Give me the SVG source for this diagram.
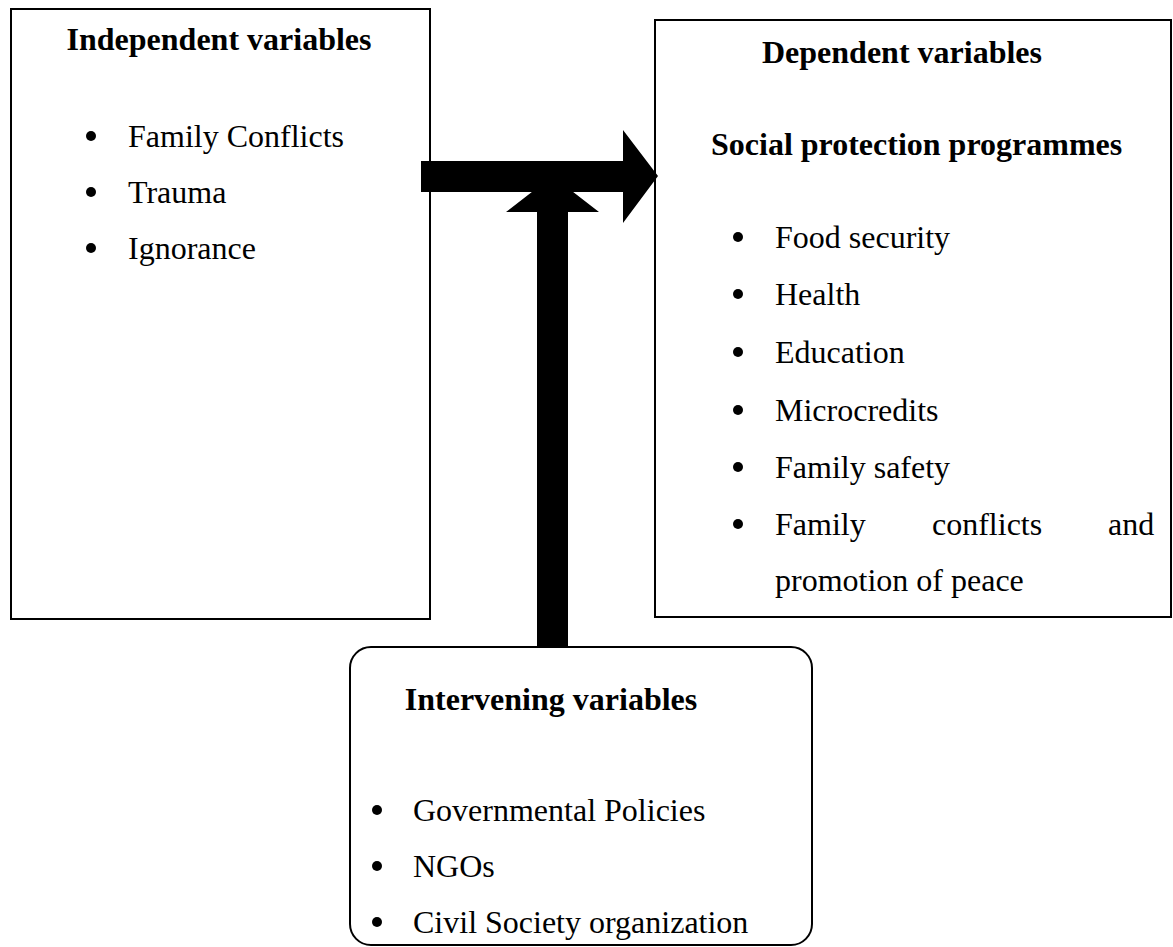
<svg xmlns="http://www.w3.org/2000/svg" width="1173" height="947" viewBox="0 0 1173 947">
<style>
.box{fill:#fff;stroke:#000;stroke-width:2}
.t{font-family:"Liberation Serif","Times New Roman",serif;font-size:32px;fill:#000}
.b{font-weight:bold}
.m{text-anchor:middle}
.arrow{fill:#000;stroke:none}
</style>
<defs>
<circle id="dot" r="5" fill="#000"/>
</defs>
<g id="independent">
<rect class="box" x="11" y="9" width="419" height="610"/>
<text class="t b m" x="219" y="50">Independent variables</text>
<use href="#dot" x="91" y="136"/><text class="t" x="128" y="147">Family Conflicts</text>
<use href="#dot" x="91" y="192"/><text class="t" x="128" y="203">Trauma</text>
<use href="#dot" x="91" y="248"/><text class="t" x="128" y="259">Ignorance</text>
</g>
<g id="dependent">
<rect class="box" x="655" y="20" width="516" height="597"/>
<text class="t b m" x="902" y="63">Dependent variables</text>
<text class="t b" x="711" y="155">Social protection programmes</text>
<use href="#dot" x="738" y="237"/><text class="t" x="775" y="248">Food security</text>
<use href="#dot" x="738" y="294"/><text class="t" x="775" y="305">Health</text>
<use href="#dot" x="738" y="352"/><text class="t" x="775" y="363">Education</text>
<use href="#dot" x="738" y="410"/><text class="t" x="775" y="421">Microcredits</text>
<use href="#dot" x="738" y="467"/><text class="t" x="775" y="478">Family safety</text>
<use href="#dot" x="738" y="524"/><text class="t" x="775" y="535">Family</text>
<text class="t" x="932" y="535">conflicts</text>
<text class="t" x="1108" y="535">and</text>
<text class="t" x="775" y="591">promotion of peace</text>
</g>
<g id="intervening">
<rect class="box" x="350" y="647" width="462" height="298" rx="21" ry="21"/>
<text class="t b m" x="551" y="710">Intervening variables</text>
<use href="#dot" x="377" y="810"/><text class="t" x="413" y="821">Governmental Policies</text>
<use href="#dot" x="377" y="866"/><text class="t" x="413" y="877">NGOs</text>
<use href="#dot" x="377" y="922"/><text class="t" x="413" y="933">Civil Society organization</text>
</g>
<g id="connectors">
<polygon class="arrow" points="537,647 568,647 568,212 599,212 552.5,176 506,212 537,212"/>
<polygon class="arrow" points="421,161 623,161 623,130 658,176 623,223 623,192 421,192"/>
</g>
</svg>
